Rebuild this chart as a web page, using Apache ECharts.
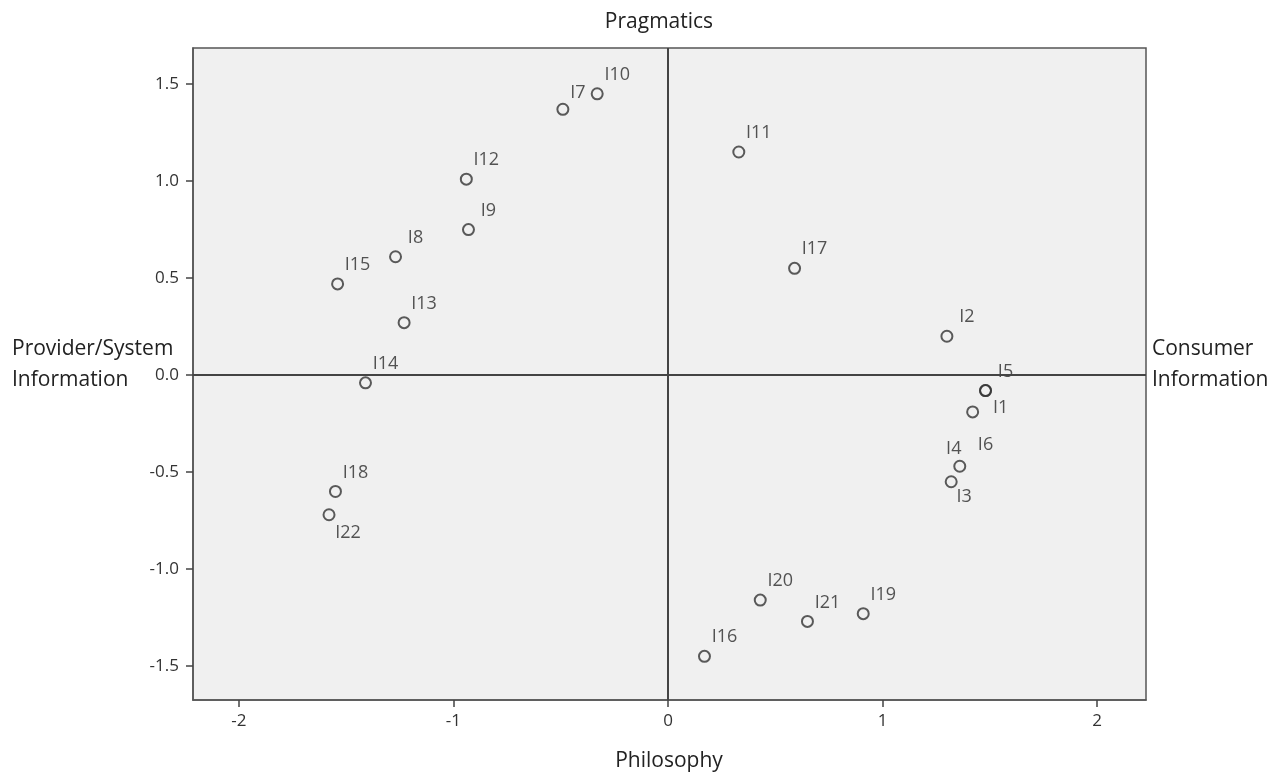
<!DOCTYPE html>
<html lang="en">

<head>
    <meta charset="UTF-8">
    <title>Philosophy vs Pragmatics</title>
    <script src="https://cdn.jsdelivr.net/npm/echarts@6/dist/echarts.min.js"></script>
    <style>
        body { margin: 0; background: #fff; }
    </style>
</head>

<body>
    <div id="main" style="width: 1284px;height:773px;"></div>
    <script type="text/javascript">
        // item names and their two dimension scores
        var items = ['I10', 'I7', 'I11', 'I12', 'I9', 'I8', 'I15', 'I13', 'I17', 'I2', 'I14',
            'I5', 'I6', 'I1', 'I4', 'I3', 'I18', 'I22', 'I20', 'I21', 'I19', 'I16'];
        var philosophy = [-0.33, -0.49, 0.33, -0.94, -0.93, -1.27, -1.54, -1.23, 0.59, 1.30, -1.41,
            1.48, 1.48, 1.42, 1.36, 1.32, -1.55, -1.58, 0.43, 0.65, 0.91, 0.17];
        var pragmatics = [1.45, 1.37, 1.15, 1.01, 0.75, 0.61, 0.47, 0.27, 0.55, 0.20, -0.04,
            -0.08, -0.08, -0.19, -0.47, -0.55, -0.60, -0.72, -1.16, -1.27, -1.23, -1.45];

        // labels that are not placed up-right of their point
        var labelShift = {
            I7: [15, -16],
            I1: [28, -4],
            I6: [0, 54],
            I4: [-6, -17],
            I3: [13, 15],
            I22: [19, 18]
        };

        var points = items.map(function (name, i) {
            var p = { name: name, value: [philosophy[i], pragmatics[i]] };
            if (labelShift[name]) {
                p.label = { offset: labelShift[name] };
            }
            return p;
        });

        var myChart = echarts.init(document.getElementById('main'));
        var font = 'Open Sans';
        var titleStyle = { fontSize: 21, fontWeight: 'normal', color: '#222', lineHeight: 31, fontFamily: font };
        var option = {
            animation: false,
            textStyle: { fontFamily: font },
            title: [
                { text: 'Pragmatics', left: 654, textAlign: 'center', top: 2, textStyle: titleStyle },
                { text: 'Philosophy', left: 664, textAlign: 'center', top: 741, textStyle: titleStyle },
                { text: 'Provider/System\nInformation', left: 7, top: 329, textStyle: titleStyle },
                { text: 'Consumer\nInformation', left: 1147, top: 329, textStyle: titleStyle }
            ],
            grid: {
                left: 193, right: 138, top: 48, bottom: 73,
                show: true, backgroundColor: '#f0f0f0', borderColor: '#555', borderWidth: 1.5
            },
            xAxis: {
                type: 'value', min: -2.214, max: 2.228, splitNumber: 4,
                axisLine: { onZero: false, lineStyle: { color: '#555', width: 1.5 } },
                axisTick: { show: true, length: 7, lineStyle: { color: '#444', width: 1.5 } },
                axisLabel: { color: '#333', fontSize: 17, margin: 13, showMinLabel: false, showMaxLabel: false },
                splitLine: { show: false }
            },
            yAxis: {
                type: 'value', min: -1.675, max: 1.686, splitNumber: 7,
                axisLine: { onZero: false, lineStyle: { color: '#555', width: 1.5 } },
                axisTick: { show: true, length: 7, lineStyle: { color: '#444', width: 1.5 } },
                axisLabel: {
                    color: '#333', fontSize: 17, margin: 14, showMinLabel: false, showMaxLabel: false,
                    formatter: function (v) { return v.toFixed(1); }
                },
                splitLine: { show: false }
            },
            series: [{
                type: 'scatter',
                data: points,
                symbol: 'circle',
                symbolSize: 11,
                itemStyle: { color: 'rgba(0,0,0,0)', borderColor: '#333', borderWidth: 2 },
                label: {
                    show: true, position: 'inside', offset: [20, -19],
                    formatter: '{b}', color: '#2a2a2a', fontSize: 18, fontFamily: font
                },
                markLine: {
                    silent: true, symbol: 'none', label: { show: false },
                    lineStyle: { color: '#444', width: 2, type: 'solid' },
                    data: [{ xAxis: 0 }, { yAxis: 0 }]
                },
                z: 3
            }]
        };
        myChart.setOption(option);
    </script>
</body>

</html>
